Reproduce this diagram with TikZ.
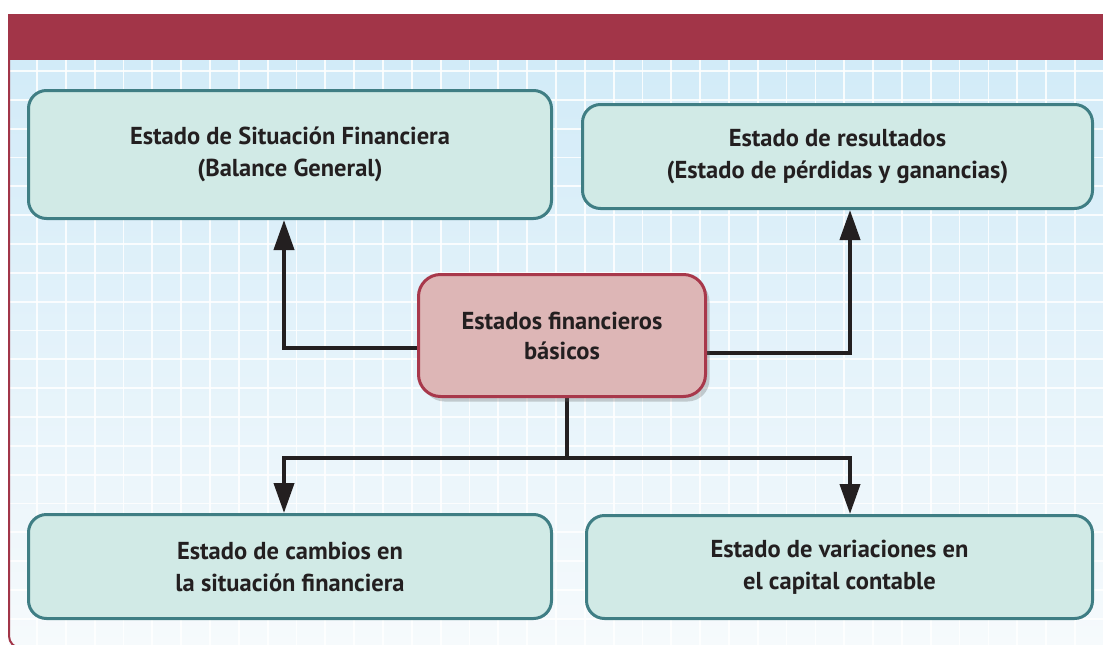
\documentclass[tikz,border=0pt]{standalone}
\usepackage{fontspec}
\setmainfont{PT Sans}
\usetikzlibrary{arrows.meta,shadows}
\definecolor{barred}{HTML}{A23548}
\definecolor{bgtop}{HTML}{D2EBF8}
\definecolor{bgbot}{HTML}{F6FAFC}
\definecolor{boxfill}{HTML}{D1EAE6}
\definecolor{boxline}{HTML}{3F7E84}
\definecolor{cfill}{HTML}{DDB6B6}
\definecolor{cline}{HTML}{A8384B}
\definecolor{ink}{HTML}{231F20}
\tikzset{
  infobox/.style={draw=boxline, fill=boxfill, line width=3pt, rounded corners=18pt,
    align=center, text=ink, font=\fontsize{24.5}{32}\selectfont\bfseries, inner sep=0pt},
  centerbox/.style={draw=cline, fill=cfill, line width=3pt, rounded corners=22pt,
    align=center, text=ink, font=\fontsize{24.5}{30}\selectfont\bfseries, inner sep=0pt,
    drop shadow={shadow xshift=4pt, shadow yshift=-5pt, opacity=0.3, fill=black!60}},
  conn/.style={draw=ink, line width=4pt},
  arr/.style={conn, -{Triangle[width=20pt,length=30pt]}},
  gridline/.style={draw=white, line width=1.8pt, opacity=0.85}
}
\begin{document}
\begin{tikzpicture}[x=1pt,y=-1pt]
\useasboundingbox (0,0) rectangle (1103,645);
\begin{scope}
  \clip (0,0) rectangle (1103,645);
  \fill[white] (0,0) rectangle (1103,645);
  \shade[top color=bgtop, bottom color=bgbot] (9,60) rectangle (1103,645);
  \foreach \i in {0,...,37} \draw[gridline] ({37+28.83*\i},60) -- ({37+28.83*\i},645);
  \foreach \j in {0,...,20} \draw[gridline] (9,{71+28.83*\j}) -- (1103,{71+28.83*\j});
  \fill[barred] (8,14) rectangle (1103,60);
  \draw[barred, line width=2pt, rounded corners=12pt] (9,14) -- (9,648) -- (60,648);
\end{scope}

\node[infobox, minimum width=523pt, minimum height=128pt] (b1) at (290,154.5)
  {Estado de Situación Financiera\\(Balance General)};
\node[infobox, minimum width=510pt, minimum height=104pt] (b2) at (837.5,156.5)
  {Estado de resultados\\(Estado de pérdidas y ganancias)};
\node[infobox, minimum width=523pt, minimum height=104pt] (b4) at (290,566.5)
  {Estado de cambios en\\la situación financiera};
\node[infobox, minimum width=506pt, minimum height=103pt] (b5) at (839.5,567)
  {Estado de variaciones en\\el capital contable};

\coordinate (j) at (567,458);
\draw[arr] (417,348) -| ([xshift=-6pt]b1.south);
\draw[arr] (707,353) -| ([xshift=12.5pt]b2.south);
\draw[conn] (567,398) -- (j);
\draw[arr] ([xshift=2pt]j) -| ([xshift=-6pt]b4.north);
\draw[arr] ([xshift=-2pt]j) -| ([xshift=10.5pt]b5.north);

\node[centerbox, minimum width=287pt, minimum height=122pt] (c) at (562,335.5)
  {Estados financieros\\básicos};
\end{tikzpicture}
\end{document}
